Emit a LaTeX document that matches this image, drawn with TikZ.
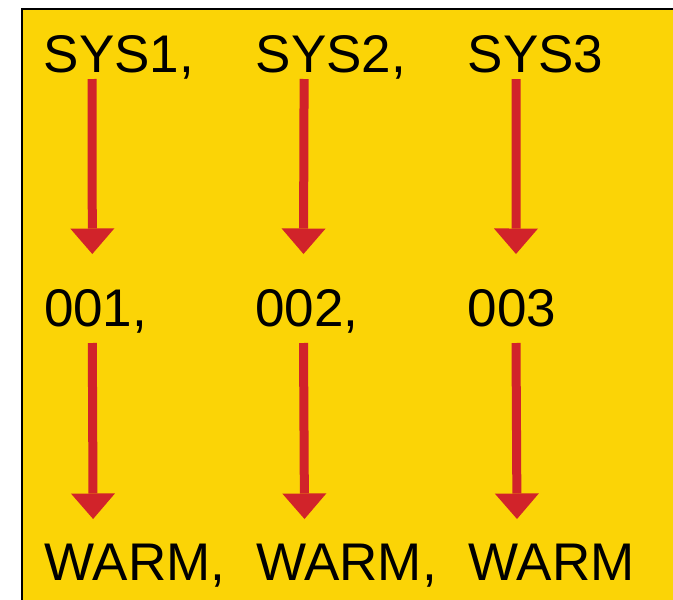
\documentclass[tikz,border=0pt]{standalone}
\usepackage{fontspec}
\setmainfont{Liberation Sans}
\usetikzlibrary{arrows.meta}
\definecolor{bgyellow}{RGB}{251,212,6}
\definecolor{arrred}{RGB}{209,35,42}
\begin{document}
\begin{tikzpicture}[x=1pt,y=1pt,
  lbl/.style={anchor=base west, inner sep=0pt, font=\fontsize{53pt}{60pt}\selectfont, text=black},
  redarrow/.style={draw=arrred, line width=9pt, -{Triangle[width=44pt,length=25.5pt,line width=0pt,fill=arrred]}}]
\useasboundingbox (0,0) rectangle (673,-600);
\clip (0,0) rectangle (673,-600);
\fill[white] (0,0) rectangle (673,-600);
\draw[fill=bgyellow, draw=black, line width=2pt] (22,-9) rectangle (700,-640);
% texts
\node[lbl] (s1) at (43.6,-72) {SYS1,};
\node[lbl] (s2) at (255.6,-72) {SYS2,};
\node[lbl] (s3) at (467.6,-72) {SYS3};
\node[lbl] (o1) at (43.8,-326) {001,};
\node[lbl] (o2) at (255,-326) {002,};
\node[lbl] (o3) at (467.5,-326) {003};
\node[lbl] (w1) at (44.6,-580) {WARM,};
\node[lbl] (w2) at (256,-580) {WARM,};
\node[lbl] (w3) at (468.5,-580) {WARM};
% arrows
\foreach \a/\b in {s1/o1,s2/o2,s3/o3}
  \draw[redarrow] ([xshift=48.5pt,yshift=-7pt]\a.base west) -- ([xshift=48.5pt,yshift=72pt]\b.base west);
\foreach \a/\b in {o1/w1,o2/w2,o3/w3}
  \draw[redarrow] ([xshift=48.5pt,yshift=-17pt]\a.base west) -- ([xshift=48.5pt,yshift=61pt]\b.base west);
\end{tikzpicture}
\end{document}
